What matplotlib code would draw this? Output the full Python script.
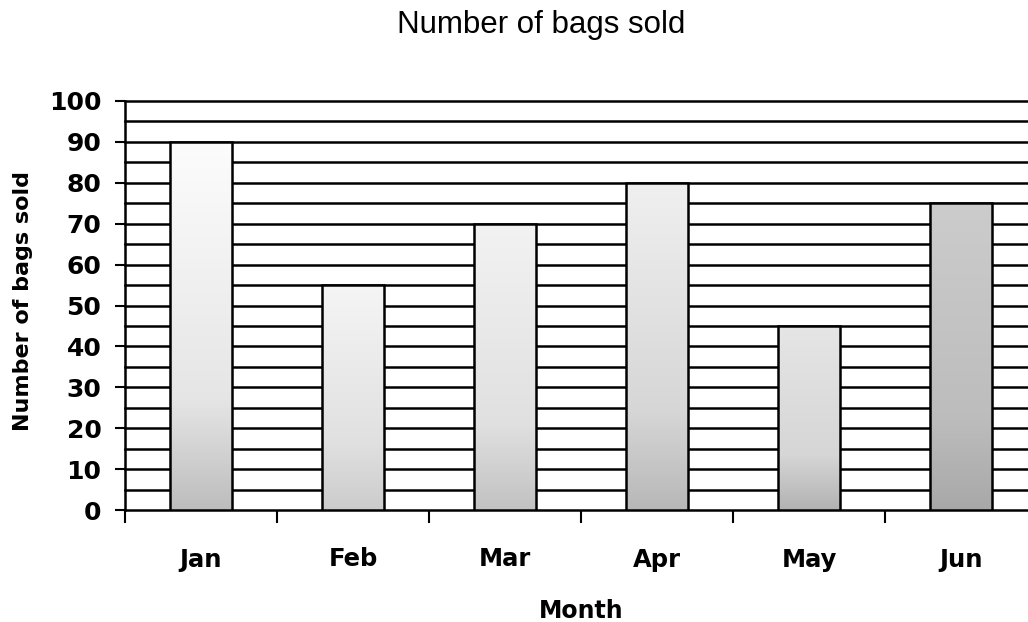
import matplotlib
matplotlib.use("Agg")
import matplotlib.pyplot as plt
import numpy as np
from matplotlib.colors import LinearSegmentedColormap

months = ["Jan", "Feb", "Mar", "Apr", "May", "Jun"]
bags = [90, 55, 70, 80, 45, 75]
y_ticks = [0, 10, 20, 30, 40, 50, 60, 70, 80, 90, 100]
title = "Number of bags sold"
x_label = "Month"
y_label = "Number of bags sold"

# style: grey levels of the speckled bar texture (bottom, middle, top)
shade_bottom = [0.74, 0.80, 0.76, 0.72, 0.70, 0.66]
shade_mid = [0.90, 0.88, 0.88, 0.84, 0.84, 0.74]
shade_top = [0.99, 0.96, 0.95, 0.94, 0.90, 0.80]

fig = plt.figure(figsize=(10.28, 6.22), dpi=100)
ax = fig.add_axes([125/1028, 112/622, 912/1028, 409/622])

x = np.arange(len(months))

# horizontal grid every 5
for g in range(0, 101, 5):
    ax.axhline(g, color="black", lw=1.8, zorder=1, clip_on=False)

bars = ax.bar(x, bags, width=0.41, facecolor="none", edgecolor="none",
              linewidth=0, zorder=3)
grad = np.linspace(0, 1, 256).reshape(-1, 1)
for b, v, sb, sm, st in zip(bars, bags, shade_bottom, shade_mid, shade_top):
    x0 = b.get_x()
    w = b.get_width()
    cmap = LinearSegmentedColormap.from_list(
        "g", [(0, (sb, sb, sb)), (0.3, (sm, sm, sm)), (1, (st, st, st))])
    im = ax.imshow(grad, extent=[x0, x0 + w, 0, v], origin="lower",
                   cmap=cmap, aspect="auto", zorder=2, interpolation="bilinear")
    im.set_clip_path(b)
    ax.add_patch(plt.Rectangle((x0, 0), w, v, facecolor="none",
                               edgecolor="black", lw=1.8, zorder=4))
ax.set_xlim(-0.5, len(months) - 0.5)
ax.set_ylim(0, 100)

for s in ["top", "right", "bottom"]:
    ax.spines[s].set_visible(False)
ax.spines["left"].set_linewidth(1.8)

ax.set_yticks(y_ticks)
ax.set_yticklabels([str(t) for t in y_ticks], fontfamily="DejaVu Sans",
                   fontweight="bold", fontsize=18)
ax.tick_params(axis="y", length=7, width=1.5, pad=10)

ax.set_xticks(x)
ax.set_xticklabels(months, fontfamily="DejaVu Sans", fontweight="bold",
                   fontsize=17.5)
ax.tick_params(axis="x", which="major", length=0, pad=27)
ax.set_xticks(np.arange(-0.5, len(months)), minor=True)
ax.tick_params(axis="x", which="minor", length=9, width=1.5, direction="out")

ax.set_xlabel(x_label, fontfamily="DejaVu Sans", fontweight="bold",
              fontsize=17, va="center")
ax.xaxis.set_label_coords(0.5, (11 - 112) / 409)
ax.set_ylabel(y_label, fontfamily="DejaVu Sans", fontweight="bold",
              fontsize=16, va="center")
ax.yaxis.set_label_coords((23 - 125) / 912, 0.51)
fig.text(541/1028, 1 - 33/622, title, ha="center", va="baseline",
         fontfamily="Liberation Sans", fontsize=22.5)

fig.savefig("out.png", dpi=100)
